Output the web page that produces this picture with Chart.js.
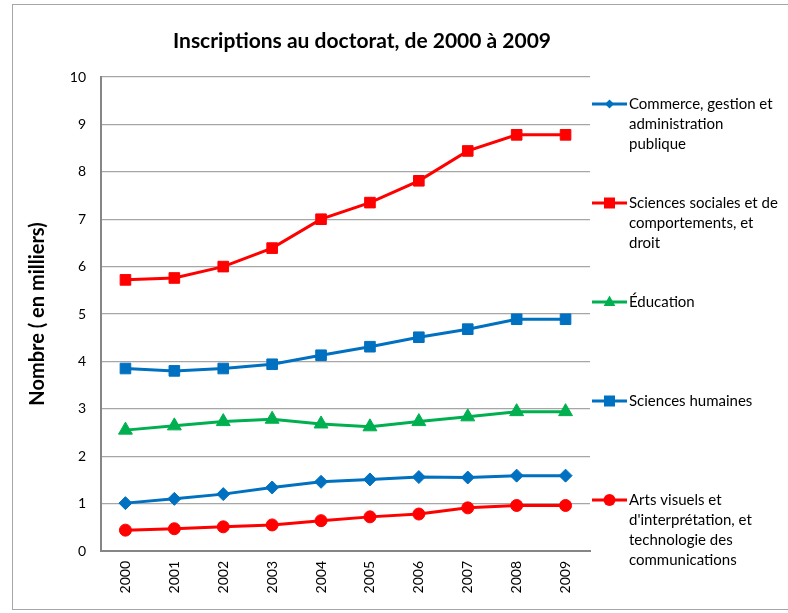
<!DOCTYPE html>
<html>
<head>
<meta charset="utf-8">
<script src="https://cdn.jsdelivr.net/npm/chart.js@4.4.0/dist/chart.umd.min.js"></script>
<style>
  html, body { margin: 0; padding: 0; background: #fff; }
  #wrap { position: relative; width: 788px; height: 613px; overflow: hidden; }
  #frame { position: absolute; left: 12px; top: 4px; width: 800px; height: 606px; border: 1px solid #a6a6a6; box-sizing: border-box; }
  canvas { position: absolute; left: 0; top: 0; }
</style>
</head>
<body>
<div id="wrap">
  <div id="frame"></div>
  <canvas id="doctoratChart" width="788" height="613"></canvas>
</div>
<script>
// Inscriptions au doctorat, 2000-2009 (en milliers)
const years = ['2000', '2001', '2002', '2003', '2004', '2005', '2006', '2007', '2008', '2009'];

const commerce = [1.01, 1.10, 1.20, 1.34, 1.46, 1.51, 1.56, 1.55, 1.59, 1.59];
const sciencesSociales = [5.72, 5.76, 6.00, 6.39, 7.00, 7.35, 7.81, 8.44, 8.78, 8.78];
const education = [2.55, 2.64, 2.73, 2.78, 2.68, 2.62, 2.73, 2.83, 2.94, 2.94];
const sciencesHumaines = [3.85, 3.80, 3.85, 3.94, 4.13, 4.31, 4.51, 4.68, 4.89, 4.89];
const artsVisuels = [0.44, 0.47, 0.51, 0.55, 0.64, 0.72, 0.78, 0.91, 0.96, 0.96];

const yTicks = [0, 1, 2, 3, 4, 5, 6, 7, 8, 9, 10];

const chartTitle = 'Inscriptions au doctorat, de 2000 à 2009';
const yTitle = 'Nombre ( en milliers)';

const colors = {
    blue: '#0070C0',
    red: '#FF0000',
    green: '#00B050',
    grid: '#a6a6a6',
    axis: '#868686'
};

const fontFamily = "Lato, 'Open Sans', sans-serif";

// legend lines (multi-line labels like in the original)
const legendLabels = [
    ['Commerce, gestion et', 'administration', 'publique'],
    ['Sciences sociales et de', 'comportements, et', 'droit'],
    ['Éducation'],
    ['Sciences humaines'],
    ['Arts visuels et', "d'interprétation, et", 'technologie des', 'communications']
];

function makeSeries(label, data, color, style, radius) {
    return {
        label: label,
        data: data,
        borderColor: color,
        backgroundColor: color,
        borderWidth: 3,
        pointStyle: style,
        pointRadius: radius,
        pointHoverRadius: radius,
        pointBorderWidth: 1,
        pointBackgroundColor: color,
        pointBorderColor: color,
        tension: 0,
        fill: false
    };
}

// small marker for the hand-drawn legend
function legendMarker(ctx, style, x, y, r) {
    ctx.beginPath();
    if (style === 'rectRot') {
        ctx.moveTo(x - r, y);
        ctx.lineTo(x, y - r);
        ctx.lineTo(x + r, y);
        ctx.lineTo(x, y + r);
        ctx.closePath();
    } else if (style === 'rect') {
        ctx.rect(x - r, y - r, 2 * r, 2 * r);
    } else if (style === 'triangle') {
        ctx.moveTo(x, y - r);
        ctx.lineTo(x + r * 0.9, y + r * 0.6);
        ctx.lineTo(x - r * 0.9, y + r * 0.6);
        ctx.closePath();
    } else {
        ctx.arc(x, y, r, 0, Math.PI * 2);
    }
    ctx.fill();
}

// Title + legend drawn by hand so the layout matches the original
const decorPlugin = {
    id: 'decor',
    afterDraw(chart) {
        const ctx = chart.ctx;
        ctx.save();
        ctx.fillStyle = '#000';
        ctx.font = 'bold 21px ' + fontFamily;
        ctx.textAlign = 'center';
        ctx.textBaseline = 'middle';
        ctx.fillText(chartTitle, 362, 41);

        const startY = [104, 203, 302, 401, 500];
        const markerSize = [4.5, 5.5, 6.5, 5.5, 6];
        ctx.font = '15px ' + fontFamily;
        ctx.textAlign = 'left';
        chart.data.datasets.forEach((ds, i) => {
            const y = startY[i];
            ctx.strokeStyle = ds.borderColor;
            ctx.lineWidth = 3;
            ctx.beginPath();
            ctx.moveTo(592, y);
            ctx.lineTo(627, y);
            ctx.stroke();
            ctx.fillStyle = ds.borderColor;
            legendMarker(ctx, ds.pointStyle, 609.5, y, markerSize[i]);
            ctx.fillStyle = '#000';
            legendLabels[i].forEach((line, j) => {
                ctx.fillText(line, 629, y + j * 20);
            });
        });
        ctx.restore();
    }
};

function initDoctoratChart() {
    const ctx = document.getElementById('doctoratChart').getContext('2d');

    window.doctoratChart = new Chart(ctx, {
        type: 'line',
        data: {
            labels: years,
            datasets: [
                makeSeries(legendLabels[0].join(' '), commerce, colors.blue, 'rectRot', 6.5),
                makeSeries(legendLabels[1].join(' '), sciencesSociales, colors.red, 'rect', 7.5),
                makeSeries(legendLabels[2].join(' '), education, colors.green, 'triangle', 8),
                makeSeries(legendLabels[3].join(' '), sciencesHumaines, colors.blue, 'rect', 7.5),
                makeSeries(legendLabels[4].join(' '), artsVisuels, colors.red, 'circle', 6)
            ]
        },
        options: {
            responsive: false,
            animation: false,
            layout: {
                padding: { left: 0, top: 77, right: 198, bottom: 0 }
            },
            plugins: {
                legend: { display: false },
                title: { display: false },
                tooltip: { enabled: false }
            },
            scales: {
                x: {
                    offset: true,
                    grid: { display: false, drawTicks: false },
                    border: { display: true, color: colors.axis, width: 2 },
                    ticks: {
                        color: '#000',
                        font: { family: fontFamily, size: 14 },
                        minRotation: 90,
                        maxRotation: 90,
                        padding: 10
                    },
                    afterFit: function(scale) {
                        scale.height = 62;
                    }
                },
                y: {
                    min: 0,
                    max: 10,
                    afterBuildTicks: function(scale) {
                        scale.ticks = yTicks.map(v => ({ value: v }));
                    },
                    grid: { color: colors.grid, lineWidth: 1.3, drawTicks: false },
                    border: { display: true, color: colors.axis, width: 2 },
                    ticks: {
                        color: '#000',
                        font: { family: fontFamily, size: 14 },
                        padding: 15
                    },
                    title: {
                        display: true,
                        text: yTitle,
                        color: '#000',
                        font: { family: fontFamily, size: 20, weight: 'bold' },
                        padding: { top: 26, bottom: 0 }
                    },
                    afterFit: function(scale) {
                        scale.width = 101;
                    }
                }
            }
        },
        plugins: [decorPlugin]
    });
}

initDoctoratChart();
</script>
</body>
</html>
